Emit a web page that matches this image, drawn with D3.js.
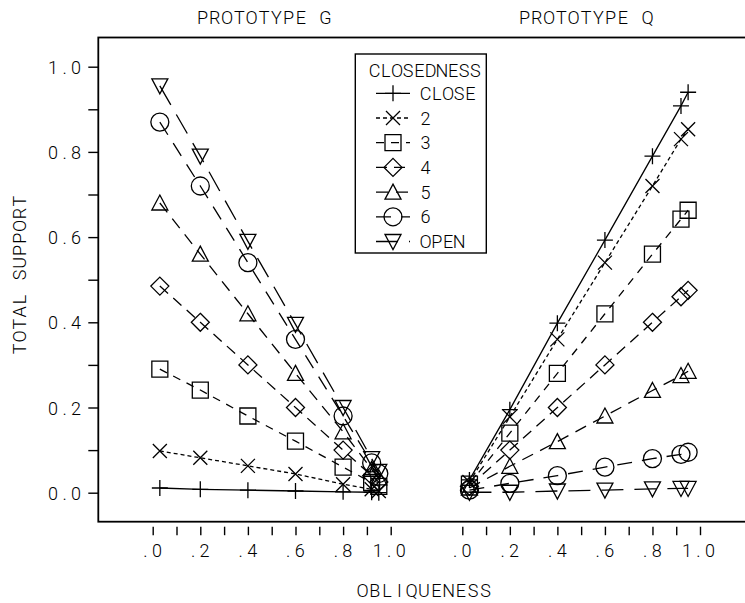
<!DOCTYPE html>
<html><head><meta charset="utf-8">
<script src="https://cdn.jsdelivr.net/npm/d3@7"></script>
<style>
body{margin:0;background:#fff}
svg text{font-family:Roboto,"DejaVu Sans",sans-serif;font-weight:300;fill:#000}
</style></head><body><svg id="chart" width="745" height="603"></svg>
<script>
// Obliqueness levels at which total support was measured
const obliqueness = [0.03, 0.2, 0.4, 0.6, 0.8, 0.92, 0.95];
const closedness = ["CLOSE", "2", "3", "4", "5", "6", "OPEN"];

// Prototype G: total support per closedness level
const protoG_close = [0.011, 0.008, 0.006, 0.004, 0.002, 0.001, 0.000];
const protoG_2     = [0.098, 0.082, 0.063, 0.044, 0.020, 0.008, 0.004];
const protoG_3     = [0.290, 0.241, 0.180, 0.121, 0.060, 0.024, 0.015];
const protoG_4     = [0.485, 0.400, 0.300, 0.200, 0.100, 0.040, 0.025];
const protoG_5     = [0.680, 0.560, 0.420, 0.280, 0.143, 0.055, 0.035];
const protoG_6     = [0.870, 0.720, 0.540, 0.360, 0.180, 0.070, 0.045];
const protoG_open  = [0.955, 0.790, 0.590, 0.395, 0.200, 0.080, 0.050];

// Prototype Q: total support per closedness level
const protoQ_close = [0.030, 0.195, 0.398, 0.593, 0.790, 0.908, 0.940];
const protoQ_2     = [0.025, 0.178, 0.360, 0.540, 0.720, 0.830, 0.853];
const protoQ_3     = [0.020, 0.140, 0.280, 0.420, 0.560, 0.642, 0.663];
const protoQ_4     = [0.015, 0.100, 0.200, 0.300, 0.400, 0.460, 0.475];
const protoQ_5     = [0.011, 0.062, 0.120, 0.180, 0.240, 0.275, 0.285];
const protoQ_6     = [0.006, 0.022, 0.040, 0.060, 0.080, 0.090, 0.095];
const protoQ_open  = [0.001, 0.001, 0.004, 0.006, 0.009, 0.010, 0.010];

const panelTitles = ["PROTOTYPE G", "PROTOTYPE Q"];
const xTickLabels = [".0", ".2", ".4", ".6", ".8", "1.0"];
const yTickLabels = ["0.0", "0.2", "0.4", "0.6", "0.8", "1.0"];

const seriesG = [protoG_close, protoG_2, protoG_3, protoG_4, protoG_5, protoG_6, protoG_open];
const seriesQ = [protoQ_close, protoQ_2, protoQ_3, protoQ_4, protoQ_5, protoQ_6, protoQ_open];

// line style and plotting symbol for each closedness level
const dashes = [null, "4,3", "8,7", "11,7", "12,8", "15,10", "22,11"];
const symbols = ["plus", "cross", "square", "diamond", "triUp", "circle", "triDown"];

function symbolPath(type) {
  switch (type) {
    case "plus": return "M-8,0H8M0,-8V8";
    case "cross": return "M-7,-7L7,7M-7,7L7,-7";
    case "square": return "M-8,-8H8V8H-8Z";
    case "diamond": return "M0,-9L9,0L0,9L-9,0Z";
    case "triUp": return "M0,-8L8,7L-8,7Z";
    case "triDown": return "M-8,-7H8L0,8Z";
    case "circle": return "M9,0A9,9 0 1,1 -9,0A9,9 0 1,1 9,0Z";
  }
}

// fixed-pitch lettering: every character centred in its own cell
function cellXs(str, x, adv, anchor) {
  const w = str.length * adv;
  const start = anchor === "middle" ? x - w / 2 : anchor === "end" ? x - w : x;
  return Array.from(str, (c, i) => (start + i * adv + adv / 2).toFixed(2)).join(" ");
}
function pitchText(sel, str, x, y, adv, anchor, size) {
  return sel.append("text")
    .attr("x", cellXs(str, x, adv, anchor)).attr("y", y)
    .attr("text-anchor", "middle").attr("font-size", size || 18)
    .text(str);
}

const svg = d3.select("#chart");
const frame = {left: 98.3, top: 37.5, bottom: 521.7, right: 750};

const y = d3.scaleLinear().domain([0, 1]).range([492.7, 66.7]);
const panels = [
  {title: panelTitles[0], series: seriesG, x: d3.scaleLinear().domain([0, 1]).range([152.7, 390.7]), titleX: 264},
  {title: panelTitles[1], series: seriesQ, x: d3.scaleLinear().domain([0, 1]).range([462.3, 700]), titleX: 586}
];

const tenths = d3.range(0, 11).map(i => i / 10);

// frame
svg.append("rect")
  .attr("x", frame.left).attr("y", frame.top)
  .attr("width", frame.right - frame.left).attr("height", frame.bottom - frame.top)
  .attr("fill", "none").attr("stroke", "#000").attr("stroke-width", 1.8);

// vertical axis
const yAxis = d3.axisLeft(y).tickValues(tenths).tickSize(10)
  .tickFormat((d, i) => i % 2 === 0 ? yTickLabels[i / 2] : "");
const gy = svg.append("g").attr("transform", `translate(${frame.left},0)`).call(yAxis);
gy.select(".domain").remove();
gy.selectAll(".tick line").attr("stroke", "#000").attr("stroke-width", 1.4);
gy.selectAll(".tick text").each(function () {
  const t = d3.select(this), s = t.text();
  t.attr("x", cellXs(s, -16.5, 11.5, "end")).attr("text-anchor", "middle")
    .attr("dy", null).attr("y", 6.5).attr("font-size", 18).attr("font-family", null);
});

const yTitle = svg.append("g").attr("transform", "translate(26,275) rotate(-90)");
pitchText(yTitle, "TOTAL SUPPORT", 0, 0, 12.3, "middle");

pitchText(svg, "OBLIQUENESS", 424, 597, 12.3, "middle");

panels.forEach(p => {
  pitchText(svg, p.title, p.titleX, 23.5, 12.3, "middle");

  const xAxis = d3.axisBottom(p.x).tickValues(tenths).tickSize(8.5)
    .tickFormat((d, i) => i % 2 === 0 ? xTickLabels[i / 2] : "");
  const gx = svg.append("g").attr("transform", "translate(0,526.7)").call(xAxis);
  gx.select(".domain").remove();
  gx.selectAll(".tick line").attr("stroke", "#000").attr("stroke-width", 1.4);
  gx.selectAll(".tick text").each(function () {
    const t = d3.select(this), s = t.text();
    t.attr("x", cellXs(s, -2, 11.5, "middle")).attr("text-anchor", "middle")
      .attr("dy", null).attr("y", 30).attr("font-size", 18).attr("font-family", null);
  });

  const line = d3.line().x((d, i) => p.x(obliqueness[i])).y(d => y(d));

  p.series.forEach((vals, s) => {
    const g = svg.append("g");
    g.append("path")
      .attr("d", line(vals))
      .attr("fill", "none").attr("stroke", "#000").attr("stroke-width", 1.3)
      .attr("stroke-dasharray", dashes[s]);
    g.selectAll("path.sym").data(vals).join("path")
      .attr("class", "sym")
      .attr("transform", (d, i) => `translate(${p.x(obliqueness[i])},${y(d)})`)
      .attr("d", symbolPath(symbols[s]))
      .attr("fill", "none").attr("stroke", "#000").attr("stroke-width", 1.3);
  });
});

// legend
const legend = svg.append("g");
legend.append("rect")
  .attr("x", 355.3).attr("y", 54).attr("width", 131).attr("height", 199)
  .attr("fill", "#fff").attr("stroke", "#000").attr("stroke-width", 1.4);
pitchText(legend, "CLOSEDNESS", 369, 76.5, 11.2, "start");

const rowY = d3.scaleLinear().domain([0, 1]).range([93.3, 118]);
closedness.forEach((name, s) => {
  const cy = rowY(s);
  legend.append("line")
    .attr("x1", 376).attr("x2", 410).attr("y1", cy).attr("y2", cy)
    .attr("stroke", "#000").attr("stroke-width", 1.3)
    .attr("stroke-dasharray", dashes[s]);
  legend.append("path")
    .attr("transform", `translate(393,${cy})`)
    .attr("d", symbolPath(symbols[s]))
    .attr("fill", "none").attr("stroke", "#000").attr("stroke-width", 1.3);
  pitchText(legend, name, 420, cy + 6.5, 11.2, "start");
});
</script></body></html>
